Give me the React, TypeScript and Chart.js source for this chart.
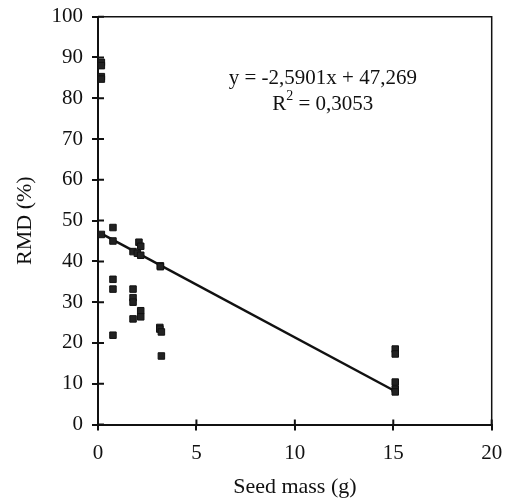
import { useEffect, useRef } from 'react';
import { Chart, registerables } from 'chart.js';

Chart.register(...registerables);

// Scatter data: seed mass (g) vs RMD (%)
const seedMass = [
  0.17, 0.17, 0.17, 0.17, 0.17,
  0.76, 0.76, 0.76, 0.76, 0.76,
  1.78, 1.78, 1.78, 1.78, 1.78,
  2.0, 2.08, 2.17, 2.17, 2.17, 2.17,
  3.17, 3.17, 3.14, 3.14, 3.22, 3.22,
  15.1, 15.1, 15.1, 15.1, 15.1,
];
const rmd = [
  88.8, 88.0, 85.3, 84.7, 46.6,
  48.3, 45.0, 35.6, 33.2, 21.9,
  42.4, 33.2, 31.1, 30.0, 25.9,
  42.0, 44.7, 43.7, 41.5, 27.9, 26.4,
  38.9, 38.7, 23.8, 23.4, 22.7, 16.8,
  18.5, 17.3, 10.4, 8.7, 8.0,
];

// Linear trendline as printed on the chart
const trendSlope = -2.5901;
const trendIntercept = 47.269;
const trendX = [0.17, 15.1];
const equationText = 'y = -2,5901x + 47,269';
const r2Text = '= 0,3053';
const equationAnchor = [11.42, 84.9];

const xTicks = [0, 5, 10, 15, 20];
const yTicks = [0, 10, 20, 30, 40, 50, 60, 70, 80, 90, 100];

const FONT = "'Liberation Serif', 'Times New Roman', serif";
const INK = '#111';

export default function App() {
  const ref = useRef<HTMLCanvasElement | null>(null);

  useEffect(() => {
    if (!ref.current) return;
    const points = seedMass.map((x, i) => ({ x, y: rmd[i] }));
    const trend = trendX.map((x) => ({ x, y: trendIntercept + trendSlope * x }));

    const boxAndText = {
      id: 'boxAndText',
      afterDraw(chart: any) {
        const { ctx, chartArea, scales } = chart;
        ctx.save();
        ctx.strokeStyle = INK;
        ctx.lineWidth = 1.5;
        ctx.beginPath();
        ctx.moveTo(chartArea.left, chartArea.top);
        ctx.lineTo(chartArea.right, chartArea.top);
        ctx.lineTo(chartArea.right, chartArea.bottom);
        ctx.stroke();

        // inner half of the crossing tick marks
        ctx.lineWidth = 2;
        ctx.beginPath();
        xTicks.forEach((v) => {
          const px = scales.x.getPixelForValue(v);
          ctx.moveTo(px, chartArea.bottom);
          ctx.lineTo(px, chartArea.bottom - 5);
        });
        yTicks.forEach((v) => {
          const py = scales.y.getPixelForValue(v);
          ctx.moveTo(chartArea.left, py);
          ctx.lineTo(chartArea.left + 6, py);
        });
        ctx.stroke();

        const cx = scales.x.getPixelForValue(equationAnchor[0]);
        const cy = scales.y.getPixelForValue(equationAnchor[1]);
        ctx.fillStyle = INK;
        ctx.textBaseline = 'middle';
        ctx.font = `21px ${FONT}`;
        ctx.textAlign = 'center';
        ctx.fillText(equationText, cx, cy);
        // R² line
        const rW = ctx.measureText('R').width;
        ctx.font = `14px ${FONT}`;
        const supW = ctx.measureText('2').width;
        ctx.font = `21px ${FONT}`;
        const restW = ctx.measureText(' ' + r2Text).width;
        const total = rW + supW + restW;
        let sx = cx - total / 2;
        const y2 = cy + 26;
        ctx.textAlign = 'left';
        ctx.fillText('R', sx, y2);
        sx += rW;
        ctx.font = `14px ${FONT}`;
        ctx.fillText('2', sx, y2 - 8);
        sx += supW;
        ctx.font = `21px ${FONT}`;
        ctx.fillText(' ' + r2Text, sx, y2);
        ctx.restore();
      },
    };

    const chart = new Chart(ref.current, {
      type: 'scatter',
      data: {
        datasets: [
          {
            label: 'RMD',
            data: points,
            pointStyle: 'rect',
            pointRadius: 4.6,
            backgroundColor: '#222',
            borderColor: '#111',
            borderWidth: 1,
          },
          {
            type: 'line',
            label: 'Trend',
            data: trend,
            borderColor: INK,
            borderWidth: 2.5,
            pointRadius: 0,
            fill: false,
          } as any,
        ],
      },
      options: {
        responsive: false,
        animation: false,
        layout: { padding: { left: 0, right: 18.3, top: 16.7, bottom: 0 } },
        plugins: { legend: { display: false }, tooltip: { enabled: false } },
        scales: {
          x: {
            type: 'linear',
            min: 0,
            max: 20,
            afterBuildTicks: (s: any) => {
              s.ticks = xTicks.map((v) => ({ value: v }));
            },
            ticks: { color: INK, font: { family: FONT, size: 21 }, padding: 10 },
            grid: { drawOnChartArea: false, drawTicks: true, tickLength: 6, color: INK, lineWidth: 2 },
            border: { color: INK, width: 2 },
            title: {
              display: true,
              text: 'Seed mass (g)',
              color: INK,
              font: { family: FONT, size: 22 },
              padding: { top: 0, bottom: -2 },
            },
            afterFit: (s: any) => {
              s.height = 73.5;
              s.paddingLeft = 0;
              s.paddingRight = 0;
            },
          },
          y: {
            type: 'linear',
            min: 0,
            max: 100,
            afterBuildTicks: (s: any) => {
              s.ticks = yTicks.map((v) => ({ value: v }));
            },
            ticks: { color: INK, font: { family: FONT, size: 21 }, padding: 9 },
            grid: { drawOnChartArea: false, drawTicks: true, tickLength: 6, color: INK, lineWidth: 2 },
            border: { color: INK, width: 2 },
            title: {
              display: true,
              text: 'RMD (%)',
              color: INK,
              font: { family: FONT, size: 22 },
              padding: { top: 12, bottom: 0 },
            },
            afterFit: (s: any) => {
              s.width = 98;
              s.paddingTop = 0;
              s.paddingBottom = 0;
            },
          },
        },
      },
      plugins: [boxAndText],
    });
    return () => chart.destroy();
  }, []);

  return (
    <div style={{ position: 'absolute', left: 0, top: 0, width: 510, height: 498, background: '#fff' }}>
      <canvas ref={ref} width={510} height={498} style={{ display: 'block' }} />
    </div>
  );
}
